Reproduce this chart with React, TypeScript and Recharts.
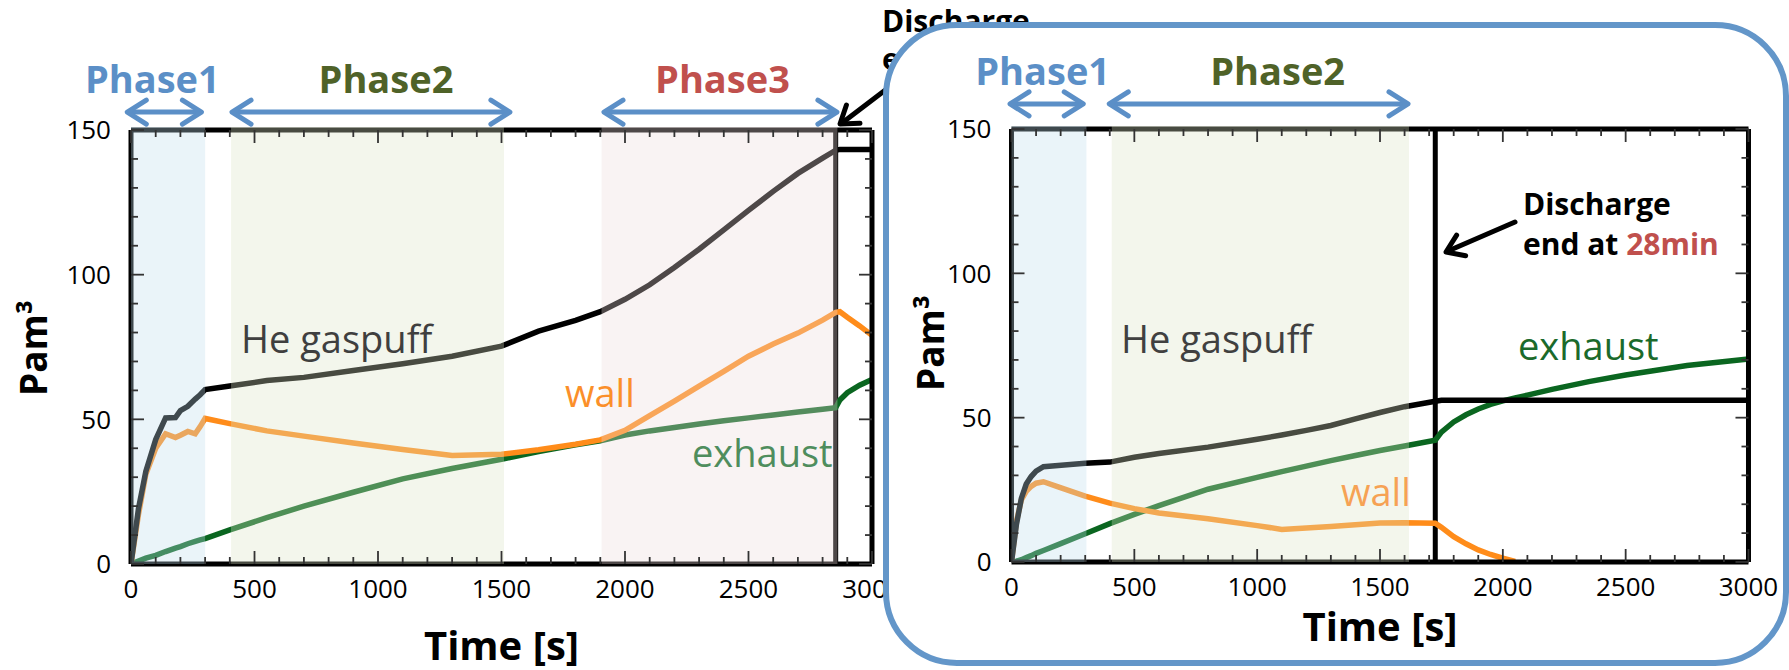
import React from 'react';
import { ComposedChart, Line, XAxis, YAxis, ReferenceArea, ReferenceLine } from 'recharts';

const FONT = "'Open Sans', 'DejaVu Sans', sans-serif";

// ---- left panel: discharge runs to ~2855 s ----
const leftTime = [0, 30, 60, 100, 140, 180, 200, 230, 260, 280, 300, 400, 550, 700, 900, 1100, 1300, 1500, 1650, 1800, 1900, 2000, 2100, 2200, 2300, 2400, 2500, 2600, 2700, 2800, 2853, 2870, 2900, 2950, 3000];
const leftHe = [0, 19, 32, 43, 50.5, 50.6, 53, 54.5, 57, 58.5, 60.3, 61.5, 63.4, 64.5, 66.9, 69.2, 71.8, 75.3, 80.5, 84.2, 87.2, 91.5, 96.5, 102.5, 108.8, 115.5, 122.2, 128.8, 135, 140.3, 143, 143.3, 143.3, 143.3, 143.3];
const leftWall = [0, 17, 31, 40, 45, 43.7, 44.5, 45.8, 45, 47.5, 50.3, 48.5, 46, 44.2, 41.8, 39.6, 37.5, 37.9, 39.5, 41.4, 42.9, 46.2, 51.3, 56.3, 61.5, 66.6, 71.8, 76, 79.8, 84.3, 87, 87.2, 85.3, 82.3, 79];
const leftExhaust = [0, 1, 2, 3, 4.3, 5.5, 6, 7, 7.8, 8.3, 8.8, 11.8, 16, 20, 24.8, 29.4, 33, 36.2, 38.9, 41.2, 42.6, 44.6, 46, 47.2, 48.4, 49.5, 50.5, 51.5, 52.5, 53.5, 54, 56.7, 59.2, 61.8, 63.8];
const leftDischarge = 2853;
const leftPhaseNames = ['Phase1', 'Phase2', 'Phase3'];
const leftBandFrom = [0, 405, 1905];
const leftBandTo = [300, 1510, 2860];
const leftArrowFrom = [-15, 409, 1915];
const leftArrowTo = [285, 1534, 2858];

// ---- right panel: discharge stopped at 28 min ----
const rightTime = [0, 20, 40, 60, 80, 100, 130, 190, 300, 400, 500, 600, 800, 1000, 1100, 1200, 1300, 1400, 1500, 1600, 1725, 1750, 1800, 1850, 1900, 1950, 2000, 2050, 2100, 2200, 2350, 2500, 2750, 3000];
const rightHe = [0, 13, 22, 27, 29.6, 31.5, 33, 33.4, 34.2, 34.6, 36.3, 37.6, 39.8, 42.5, 44, 45.6, 47.3, 49.6, 51.8, 53.8, 55.7, 56, 56, 56, 56, 56, 56, 56, 56, 56, 56, 56, 56, 56];
const rightWall = [0, 14, 21.5, 24.5, 26.2, 27.3, 27.8, 26, 22.8, 20.4, 18.5, 17, 15, 12.6, 11.3, 11.8, 12.3, 12.9, 13.5, 13.6, 13.4, 12, 8.8, 6.3, 4.2, 2.6, 1.3, 0.2, null, null, null, null, null, null];
const rightExhaust = [0, 0.3, 0.8, 1.5, 2.2, 3, 4, 6, 9.8, 13.3, 16.5, 19.5, 25.2, 29.3, 31.3, 33.2, 35.1, 36.9, 38.6, 40.2, 42.2, 45, 48.5, 51, 53, 54.6, 55.8, 56.8, 57.8, 59.8, 62.5, 64.8, 68.1, 70.3];
const rightDischarge = 1725;
const rightPhaseNames = ['Phase1', 'Phase2'];
const rightBandFrom = [0, 408];
const rightBandTo = [305, 1618];
const rightArrowFrom = [-6, 398];
const rightArrowTo = [292, 1614];

// every 100 s / every 10 Pam3; labels only on multiples of 500 / 50
const xTicks = [0, 100, 200, 300, 400, 500, 600, 700, 800, 900, 1000, 1100, 1200, 1300, 1400, 1500, 1600, 1700, 1800, 1900, 2000, 2100, 2200, 2300, 2400, 2500, 2600, 2700, 2800, 2900, 3000];
const yTicks = [0, 10, 20, 30, 40, 50, 60, 70, 80, 90, 100, 110, 120, 130, 140, 150];

const phaseText = ['#5b8fc7', '#4f6228', '#c0504d'];
const bandFill = ['rgb(190,221,236)', 'rgb(218,227,197)', 'rgb(236,218,218)'];
const TICK = '#333';
const BORDER = { stroke: '#000', strokeWidth: 5 };
const THIN = 0.01; // axes take no room, but must not be zero or recharts skips them
const LW = 5.5;

// inward tick marks, longer on labelled values
function AxisTick(p: any) {
  const { x, y, payload, side } = p;
  const v = payload.value;
  const horiz = side === 'bottom' || side === 'top';
  const major = horiz ? v % 500 === 0 : v % 50 === 0;
  const len = major ? 13 : 7;
  const labelled = major && (side === 'bottom' || side === 'left');
  let line;
  if (side === 'bottom') line = <line x1={x} y1={y} x2={x} y2={y - len} />;
  else if (side === 'top') line = <line x1={x} y1={y} x2={x} y2={y + len} />;
  else if (side === 'left') line = <line x1={x} y1={y} x2={x + len} y2={y} />;
  else line = <line x1={x} y1={y} x2={x - len} y2={y} />;
  return (
    <g>
      <g stroke={TICK} strokeWidth={1.8}>{line}</g>
      {labelled && side === 'bottom' && (
        <text x={x} y={y + 16} dy="0.71em" textAnchor="middle" fontSize={26} fill="#000" fontFamily={FONT}>{v}</text>
      )}
      {labelled && side === 'left' && (
        <text x={x - 20} y={y} dy="0.355em" textAnchor="end" fontSize={26} fill="#000" fontFamily={FONT}>{v}</text>
      )}
    </g>
  );
}

const DoubleArrow = (p: any) => {
  const { x1, y1, x2 } = p;
  const y = y1;
  return (
    <g stroke="#5b8fc7" strokeWidth={5} fill="none" strokeLinecap="round" strokeLinejoin="round">
      <line x1={x1 + 2} y1={y} x2={x2 - 2} y2={y} />
      <polyline points={`${x1 + 19},${y - 12} ${x1},${y} ${x1 + 19},${y + 12}`} />
      <polyline points={`${x2 - 19},${y - 12} ${x2},${y} ${x2 - 19},${y + 12}`} />
    </g>
  );
};

function arrowPath(x1: number, y1: number, x2: number, y2: number) {
  const a = Math.atan2(y1 - y2, x1 - x2);
  const L = 20;
  const s = 0.6;
  const p1 = `${x2 + L * Math.cos(a + s)},${y2 + L * Math.sin(a + s)}`;
  const p2 = `${x2 + L * Math.cos(a - s)},${y2 + L * Math.sin(a - s)}`;
  return (
    <g stroke="#000" strokeWidth={5} fill="none" strokeLinecap="round" strokeLinejoin="round">
      <line x1={x1} y1={y1} x2={x2 + 2} y2={y2 - 1} />
      <polyline points={`${p1} ${x2},${y2} ${p2}`} />
    </g>
  );
}

function Panel(props: any) {
  const { time, he, wall, exhaust, discharge, names, bandFrom, bandTo, arrowFrom, arrowTo, arrowY, left, width, margin, titleOffset, phaseDx } = props;
  const rows = time.map((t: number, i: number) => ({ t, he: he[i], wall: wall[i], exhaust: exhaust[i] }));
  const common = { type: 'number' as const, allowDataOverflow: true, interval: 0, tickLine: false, tickSize: 0, tickMargin: 0 };
  return (
    <div style={{ position: 'absolute', left, top: 0 }}>
      <ComposedChart width={width} height={670} data={rows} margin={margin}>
        <XAxis xAxisId="x" dataKey="t" {...common} domain={[0, 3000]} ticks={xTicks} height={THIN} axisLine={BORDER}
          tick={(p: any) => <AxisTick {...p} side="bottom" />}
          label={{ value: 'Time [s]', position: 'bottom', offset: titleOffset, fontSize: 40, fontWeight: 700, fill: '#000', fontFamily: FONT }} />
        <XAxis xAxisId="top" dataKey="t" orientation="top" {...common} domain={[0, 3000]} ticks={xTicks} height={THIN} axisLine={BORDER}
          tick={(p: any) => <AxisTick {...p} side="top" />} />
        <YAxis yAxisId="y" {...common} domain={[0, 150]} ticks={yTicks} width={THIN} axisLine={BORDER}
          tick={(p: any) => <AxisTick {...p} side="left" />} />
        <YAxis yAxisId="right" orientation="right" {...common} domain={[0, 150]} ticks={yTicks} width={THIN} axisLine={BORDER}
          tick={(p: any) => <AxisTick {...p} side="right" />} />

        <ReferenceLine xAxisId="x" yAxisId="y" x={discharge} stroke="#000" strokeWidth={5} />
        {/* same domains on every axis, so the series can hang off the top/right pair too */}
        <Line xAxisId="top" yAxisId="right" dataKey="exhaust" stroke="#0a6620" strokeWidth={LW} dot={false} isAnimationActive={false} />
        <Line xAxisId="x" yAxisId="y" dataKey="wall" stroke="#ff8c1a" strokeWidth={LW} dot={false} isAnimationActive={false} />
        <Line xAxisId="x" yAxisId="y" dataKey="he" stroke="#000" strokeWidth={LW} dot={false} isAnimationActive={false} />

        {names.map((n: string, i: number) => (
          <ReferenceArea key={n} xAxisId="x" yAxisId="y" x1={bandFrom[i]} x2={bandTo[i]} y1={0} y2={151} ifOverflow="visible"
            fill={bandFill[i]} fillOpacity={0.33} stroke="none" zIndex={600} />
        ))}
        {names.map((n: string, i: number) => (
          <ReferenceLine key={'a' + n} xAxisId="x" yAxisId="y" ifOverflow="visible" zIndex={700}
            segment={[{ x: arrowFrom[i], y: arrowY }, { x: arrowTo[i], y: arrowY }]}
            shape={DoubleArrow}
            label={{ value: n, position: 'top', offset: 19, dx: phaseDx[i], fontSize: 38, fontWeight: 700, fill: phaseText[i], fontFamily: FONT }} />
        ))}
      </ComposedChart>
    </div>
  );
}

const txt = { fontFamily: FONT };

export default function App() {
  return (
    <div style={{ position: 'absolute', left: 0, top: 0, width: 1789, height: 670, overflow: 'hidden', background: '#fff' }}>
      <Panel time={leftTime} he={leftHe} wall={leftWall} exhaust={leftExhaust} discharge={leftDischarge}
        names={leftPhaseNames} bandFrom={leftBandFrom} bandTo={leftBandTo} arrowFrom={leftArrowFrom} arrowTo={leftArrowTo}
        arrowY={156.2} left={0} width={900} margin={{ top: 130, left: 131, right: 28, bottom: 106 }} titleOffset={68} phaseDx={[-12, 15, 2]} />
      <svg width={1789} height={670} style={{ position: 'absolute', left: 0, top: 0 }}>
        <g style={txt}>
          <text x={241} y={353} fontSize={38} fill="#3f3f3f">He gaspuff</text>
          <text x={565} y={407} fontSize={38} fill="#fb8f2a">wall</text>
          <text x={692} y={467} fontSize={38} fill="#4f8d5d">exhaust</text>
          <text x={47} y={348} fontSize={37} fontWeight={700} textAnchor="middle" transform="rotate(-90 47 348)">Pam³</text>
          <text x={882} y={32} fontSize={30} fontWeight={700}>Discharge</text>
          <text x={882} y={70} fontSize={30} fontWeight={700}>end at <tspan fill="#c0504d">48min</tspan></text>
        </g>
        {arrowPath(888, 88, 840, 124)}
      </svg>
      <div style={{ position: 'absolute', left: 883, top: 22, width: 906, height: 644, boxSizing: 'border-box', border: '6px solid #6396c9', borderRadius: 74, background: '#fff' }} />
      <Panel time={rightTime} he={rightHe} wall={rightWall} exhaust={rightExhaust} discharge={rightDischarge}
        names={rightPhaseNames} bandFrom={rightBandFrom} bandTo={rightBandTo} arrowFrom={rightArrowFrom} arrowTo={rightArrowTo}
        arrowY={158.7} left={900} width={889} margin={{ top: 129, left: 111.5, right: 40.5, bottom: 108 }} titleOffset={51} phaseDx={[-4, 19]} />
      <svg width={1789} height={670} style={{ position: 'absolute', left: 0, top: 0 }}>
        <g style={txt}>
          <text x={1121} y={353} fontSize={38} fill="#404040">He gaspuff</text>
          <text x={1341} y={506} fontSize={38} fill="#f6a254">wall</text>
          <text x={1518} y={360} fontSize={38} fill="#1b6a2b">exhaust</text>
          <text x={944} y={343} fontSize={37} fontWeight={700} textAnchor="middle" transform="rotate(-90 944 343)">Pam³</text>
          <text x={1523} y={215} fontSize={30} fontWeight={700}>Discharge</text>
          <text x={1523} y={255} fontSize={30} fontWeight={700}>end at <tspan fill="#c0504d">28min</tspan></text>
        </g>
        {arrowPath(1515, 222, 1446, 252)}
      </svg>
    </div>
  );
}
